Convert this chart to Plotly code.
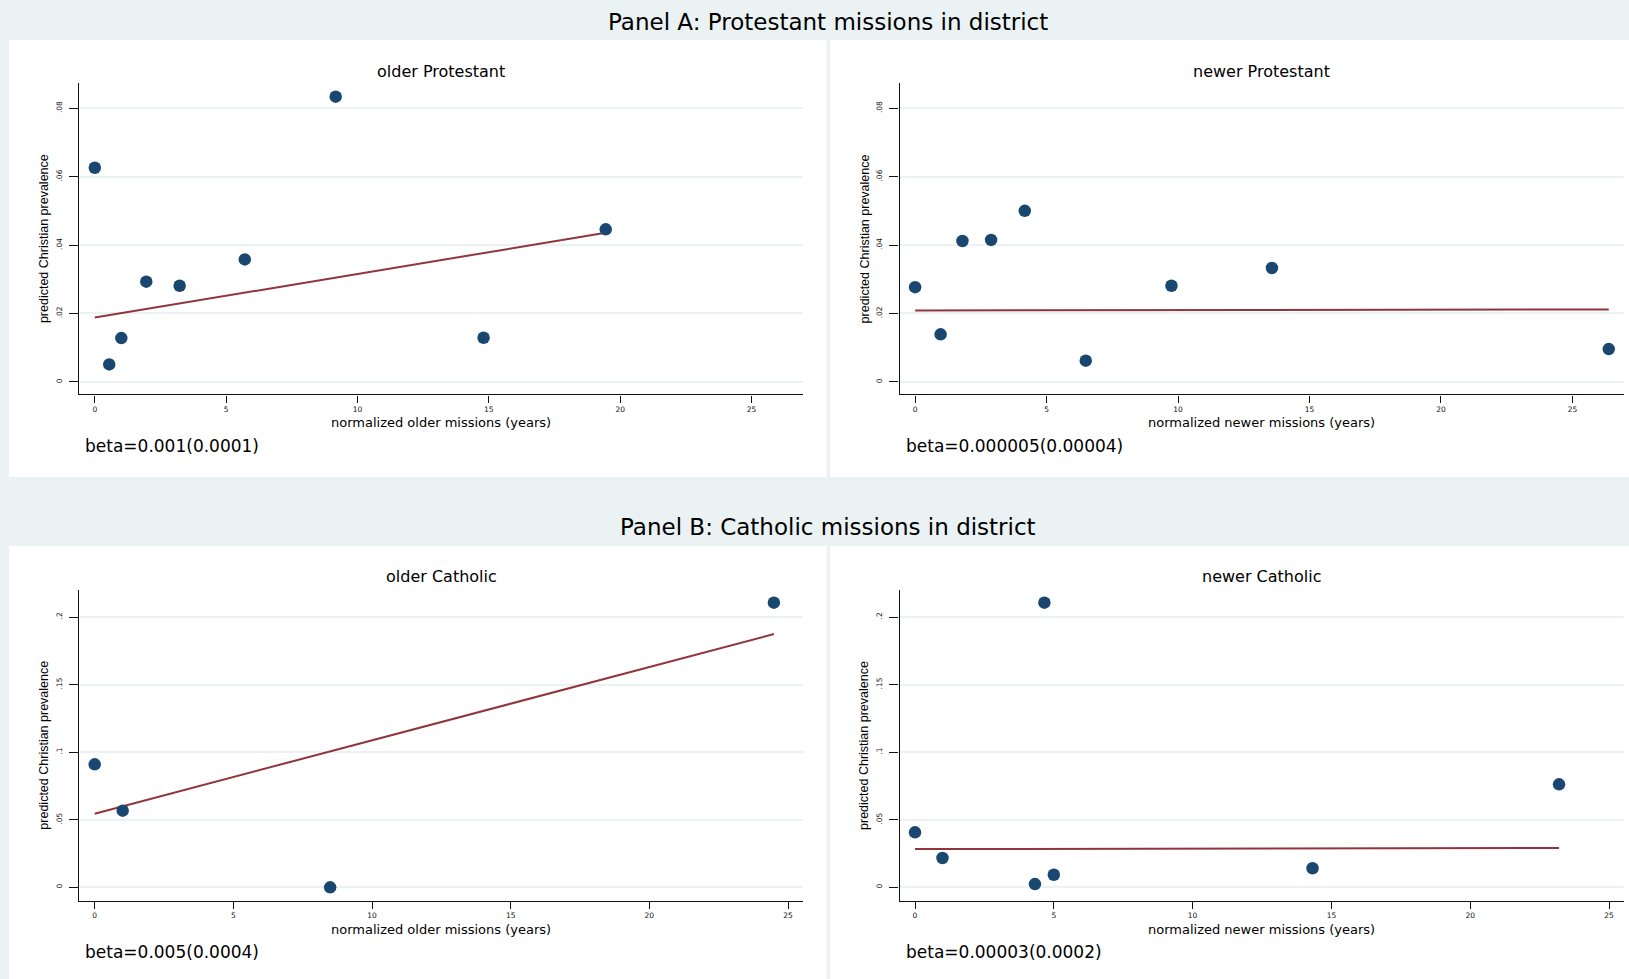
import plotly.graph_objects as go

# ---------------- data ----------------
older_prot_x = [0.0, 0.55, 1.01, 1.96, 3.23, 5.71, 9.17, 14.8, 19.45]
older_prot_y = [0.0626, 0.0051, 0.0128, 0.0293, 0.0281, 0.0358, 0.0834, 0.0129, 0.0446]
older_prot_fit_x = [0.0, 19.45]
older_prot_fit_y = [0.0188, 0.0436]

newer_prot_x = [0.0, 0.97, 1.80, 2.89, 4.17, 6.49, 9.75, 13.57, 26.38]
newer_prot_y = [0.0277, 0.0139, 0.0412, 0.0415, 0.0500, 0.0062, 0.0281, 0.0333, 0.0096]
newer_prot_fit_x = [0.0, 26.38]
newer_prot_fit_y = [0.0209, 0.0212]

older_cath_x = [0.0, 1.01, 8.49, 24.49]
older_cath_y = [0.0910, 0.0567, 0.0000, 0.2106]
older_cath_fit_x = [0.0, 24.49]
older_cath_fit_y = [0.0545, 0.1874]

newer_cath_x = [0.0, 0.99, 4.32, 4.66, 5.00, 14.32, 23.2]
newer_cath_y = [0.0407, 0.0217, 0.0024, 0.2106, 0.0093, 0.0141, 0.0762]
newer_cath_fit_x = [0.0, 23.2]
newer_cath_fit_y = [0.0283, 0.0291]

panel_titles = ["Panel A: Protestant missions in district", "Panel B: Catholic missions in district"]
sub_titles = ["older Protestant", "newer Protestant", "older Catholic", "newer Catholic"]
x_titles = ["normalized older missions (years)", "normalized newer missions (years)",
            "normalized older missions (years)", "normalized newer missions (years)"]
y_title = "predicted Christian prevalence"
beta_texts = ["beta=0.001(0.0001)", "beta=0.000005(0.00004)",
              "beta=0.005(0.0004)", "beta=0.00003(0.0002)"]

x_tickvals = [0, 5, 10, 15, 20, 25]
x_ticktext = ["0", "5", "10", "15", "20", "25"]
yA_tickvals = [0, 0.02, 0.04, 0.06, 0.08]
yA_ticktext = ["0", ".02", ".04", ".06", ".08"]
yB_tickvals = [0, 0.05, 0.1, 0.15, 0.2]
yB_ticktext = ["0", ".05", ".1", ".15", ".2"]

# ---------------- layout geometry (pixels) ----------------
W, H = 1629, 979
BG = "#eaf2f3"
NAVY = "#1a476f"
MAROON = "#90353b"
FONT = "DejaVu Sans"

def px(x):
    return x / W

def py(y):
    return 1 - y / H

cols = [(79.3, 803.0), (899.6, 1624.0)]
rows = [(83.3, 394.3), (590.0, 900.7)]
x_ranges = [[-0.59, 26.96], [-0.555, 25.54]]
y_ranges = [[-0.00363, 0.0873], [-0.0099, 0.22]]

series = [
    (older_prot_x, older_prot_y, older_prot_fit_x, older_prot_fit_y),
    (newer_prot_x, newer_prot_y, newer_prot_fit_x, newer_prot_fit_y),
    (older_cath_x, older_cath_y, older_cath_fit_x, older_cath_fit_y),
    (newer_cath_x, newer_cath_y, newer_cath_fit_x, newer_cath_fit_y),
]

fig = go.Figure()
layout = dict(
    width=W, height=H,
    margin=dict(l=0, r=0, t=0, b=0),
    paper_bgcolor=BG, plot_bgcolor="white",
    showlegend=False,
    font=dict(family=FONT, color="black"),
)

annotations = []
shapes = []

# white panel backgrounds
for (x0, x1) in [(9, 826.7), (830, 1629)]:
    for (y0, y1) in [(40, 477), (546, 979)]:
        shapes.append(dict(type="rect", xref="paper", yref="paper",
                           x0=px(x0), x1=px(x1), y0=py(y1), y1=py(y0),
                           fillcolor="white", line=dict(width=0), layer="below"))

for i, (sx, sy, fx, fy) in enumerate(series):
    r, c = divmod(i, 2)
    n = i + 1
    xa = "x" if n == 1 else f"x{n}"
    ya = "y" if n == 1 else f"y{n}"
    fig.add_trace(go.Scatter(x=fx, y=fy, mode="lines", xaxis=xa, yaxis=ya,
                             line=dict(color=MAROON, width=2), hoverinfo="skip"))
    fig.add_trace(go.Scatter(x=sx, y=sy, mode="markers", xaxis=xa, yaxis=ya,
                             marker=dict(color=NAVY, size=12.5, line=dict(width=0)),
                             cliponaxis=False))
    (cx0, cx1), (ry0, ry1) = cols[c], rows[r]
    ytv, ytt = (yA_tickvals, yA_ticktext) if r == 0 else (yB_tickvals, yB_ticktext)
    layout["xaxis" if n == 1 else f"xaxis{n}"] = dict(
        domain=[px(cx0), px(cx1)], anchor=ya, range=x_ranges[r],
        tickvals=x_tickvals, ticktext=x_ticktext,
        ticks="outside", ticklen=7, tickwidth=1.3, tickcolor="#111",
        showline=True, linecolor="#111", linewidth=1.4,
        showgrid=False, zeroline=False,
        tickfont=dict(family=FONT, size=7.5, color="#111"),
        fixedrange=True,
    )
    layout["yaxis" if n == 1 else f"yaxis{n}"] = dict(
        domain=[py(ry1), py(ry0)], anchor=xa, range=y_ranges[r],
        tickvals=ytv, ticktext=ytt, tickangle=-90,
        ticks="outside", ticklen=9, tickwidth=1.3, tickcolor="#111",
        showline=True, linecolor="#111", linewidth=1.4,
        showgrid=True, gridcolor=BG, gridwidth=1.5, zeroline=False,
        tickfont=dict(family=FONT, size=7.5, color="#111"),
        ticklabelstandoff=4,
        fixedrange=True,
    )
    ccx = (cx0 + cx1) / 2
    sub_y = 71 if r == 0 else 576
    xt_y = 422.7 if r == 0 else 929
    beta_y = 445.7 if r == 0 else 951.5
    annotations.append(dict(text=sub_titles[i], x=px(ccx), y=py(sub_y), xref="paper", yref="paper",
                            xanchor="center", yanchor="middle", showarrow=False,
                            font=dict(family=FONT, size=16, color="black")))
    annotations.append(dict(text=x_titles[i], x=px(ccx), y=py(xt_y), xref="paper", yref="paper",
                            xanchor="center", yanchor="middle", showarrow=False,
                            font=dict(family=FONT, size=13, color="black")))
    annotations.append(dict(text=y_title, x=px(cx0 - 35), y=py((ry0 + ry1) / 2),
                            xref="paper", yref="paper", textangle=-90,
                            xanchor="center", yanchor="middle", showarrow=False,
                            font=dict(family="Liberation Sans", size=12.5, color="black")))
    annotations.append(dict(text=beta_texts[i], x=px(cx0 + 4), y=py(beta_y), xref="paper", yref="paper",
                            xanchor="left", yanchor="middle", showarrow=False,
                            font=dict(family=FONT, size=17, color="black")))

for t, yy in zip(panel_titles, [22, 527]):
    annotations.append(dict(text=t, x=px(828), y=py(yy), xref="paper", yref="paper",
                            xanchor="center", yanchor="middle", showarrow=False,
                            font=dict(family=FONT, size=23, color="black")))

layout["annotations"] = annotations
layout["shapes"] = shapes
fig.update_layout(**layout)
fig.write_html("out.html")
